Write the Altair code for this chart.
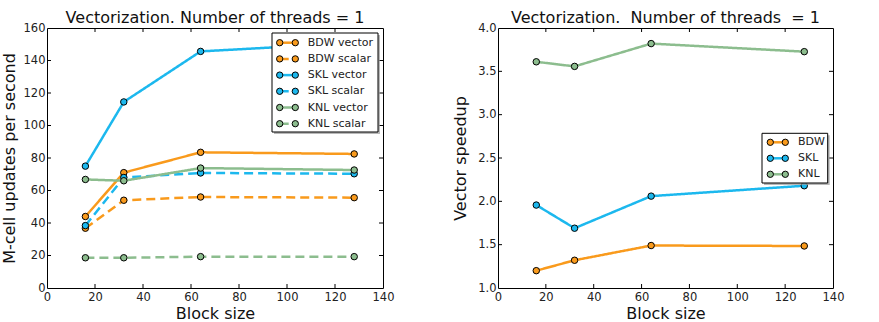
import altair as alt
import pandas as pd

FONT = "DejaVu Sans"

# Block sizes on the x axis
blocks = [16, 32, 64, 128]

# M-cell updates per second, one list per processor and code path
bdw_vector = [44.0, 71.0, 83.5, 82.5]
bdw_scalar = [36.8, 54.0, 56.0, 55.6]
skl_vector = [75.0, 114.5, 145.6, 150.8]
skl_scalar = [38.4, 68.0, 70.8, 70.3]
knl_vector = [66.8, 66.0, 73.8, 72.6]
knl_scalar = [18.6, 18.6, 19.3, 19.3]

# Vector speedup per processor
bdw_speedup = [1.20, 1.32, 1.49, 1.485]
skl_speedup = [1.957, 1.69, 2.06, 2.18]
knl_speedup = [3.61, 3.557, 3.82, 3.727]

procs = ["BDW", "SKL", "KNL"]
proc_colors = {"BDW": "#F99A1C", "SKL": "#1CB8EE", "KNL": "#8CBD8E"}

x_tick_labels = [0, 20, 40, 60, 80, 100, 120, 140]
left_y_labels = [0, 20, 40, 60, 80, 100, 120, 140, 160]
right_y_labels = [1.0, 1.5, 2.0, 2.5, 3.0, 3.5, 4.0]

W_L, W_R, H = 336, 335, 260
TICK = 4
DASH = [9, 5]

perf = {
    ("BDW", "vector"): bdw_vector, ("BDW", "scalar"): bdw_scalar,
    ("SKL", "vector"): skl_vector, ("SKL", "scalar"): skl_scalar,
    ("KNL", "vector"): knl_vector, ("KNL", "scalar"): knl_scalar,
}
series_order = [f"{p} {k}" for p in procs for k in ["vector", "scalar"]]

rows = []
for (p, k), vals in perf.items():
    for b, v in zip(blocks, vals):
        rows.append({"block": b, "value": v, "series": f"{p} {k}", "kind": k,
                     "col": proc_colors[p]})
perf_df = pd.DataFrame(rows)

speed = {"BDW": bdw_speedup, "SKL": skl_speedup, "KNL": knl_speedup}
speed_df = pd.DataFrame([
    {"block": b, "value": v, "series": p, "kind": "vector", "col": proc_colors[p]}
    for p, vals in speed.items() for b, v in zip(blocks, vals)
])


def axis_x():
    return alt.Axis(values=x_tick_labels, ticks=False, tickSize=0,
                    domain=False, grid=False, labelPadding=3, labelFontSize=11.5,
                    labelFont=FONT, labelColor="#222", labelOverlap=False,
                    title="Block size", titleFont=FONT, titleFontSize=16,
                    titleFontWeight="normal", titleColor="#111",
                    titleBaseline="alphabetic", titleY=30, labelFlush=False)


def axis_y(title, fmt, values):
    return alt.Axis(values=values, ticks=False, tickSize=0, domain=False, grid=False,
                    labelPadding=2, labelFontSize=11.5, labelFont=FONT, labelColor="#222",
                    labelOverlap=False, format=fmt, title=title, titleFont=FONT,
                    titleFontSize=16, titleFontWeight="normal", titleColor="#111",
                    titleAngle=270, titleBaseline="alphabetic", titleAlign="center",
                    titleX=-33, titleY=H / 2, labelFlush=False)


def inner_ticks(xvals, yvals, width, xs, ys, xaxis, yaxis):
    xt = pd.DataFrame({"t": xvals})
    yt = pd.DataFrame({"t": yvals})
    rule = dict(color="black", strokeWidth=1)
    X = alt.X("t:Q", scale=xs, axis=xaxis)
    Y = alt.Y("t:Q", scale=ys, axis=yaxis)
    bottom = alt.Chart(xt).mark_rule(**rule).encode(x=X, y=alt.value(H), y2=alt.value(H - TICK))
    top = alt.Chart(xt).mark_rule(**rule).encode(x=X, y=alt.value(0), y2=alt.value(TICK))
    left = alt.Chart(yt).mark_rule(**rule).encode(y=Y, x=alt.value(0), x2=alt.value(TICK))
    right = alt.Chart(yt).mark_rule(**rule).encode(
        y=Y, x=alt.value(width), x2=alt.value(width - TICK))
    return [bottom, top, left, right]


def legend(names, colors, dashed, box, first_y, step, sym_x0, sym_x1, label_x, xaxis, yaxis):
    n = len(names)
    leg = pd.DataFrame({
        "name": names,
        "col": colors,
        "dash": dashed,
        "y": [first_y + step * i for i in range(n)],
        "x0": [sym_x0] * n,
        "x1": [sym_x1] * n,
        "lx": [label_x] * n,
    })
    bx0, by0, bx1, by1 = box
    one = pd.DataFrame({"a": [0]})
    shadow = alt.Chart(one).mark_rect(fill="#9a9a9a", opacity=0.7).encode(
        x=alt.value(bx0 + 2), x2=alt.value(bx1 + 2),
        y=alt.value(by0 + 2), y2=alt.value(by1 + 2))
    frame = alt.Chart(one).mark_rect(fill="white", stroke="black", strokeWidth=1).encode(
        x=alt.value(bx0), x2=alt.value(bx1), y=alt.value(by0), y2=alt.value(by1))
    col = alt.Color("col:N", scale=None)
    fil = alt.Fill("col:N", scale=None)
    Y = alt.Y("y:Q", scale=None, axis=yaxis)
    layers = [shadow, frame]
    solid_rows = leg[~leg["dash"]]
    dashed_rows = leg[leg["dash"]]
    layers.append(alt.Chart(solid_rows).mark_rule(strokeWidth=2.5).encode(
        x=alt.X("x0:Q", scale=None, axis=xaxis), x2="x1:Q", y=Y, color=col))
    if len(dashed_rows):
        layers.append(alt.Chart(dashed_rows).mark_rule(strokeWidth=2.5, strokeDash=DASH).encode(
            x=alt.X("x0:Q", scale=None, axis=xaxis), x2="x1:Q", y=Y, color=col))
    for xfield in ["x0", "x1"]:
        layers.append(alt.Chart(leg).mark_point(filled=True, size=40, stroke="black",
                                                strokeWidth=1, opacity=1).encode(
            x=alt.X(f"{xfield}:Q", scale=None, axis=xaxis), y=Y, fill=fil))
    layers.append(alt.Chart(leg).mark_text(align="left", baseline="middle", font=FONT,
                                           fontSize=11, color="#222").encode(
        x=alt.X("lx:Q", scale=None, axis=xaxis), y=Y, text="name:N"))
    return layers


def panel_title(text, width):
    return alt.Chart(pd.DataFrame({"t": [text]})).mark_text(
        font=FONT, fontSize=16, color="#111", align="center", baseline="alphabetic"
    ).encode(x=alt.value(width / 2), y=alt.value(-5), text="t:N")


def series_layers(df, xs, ys, xaxis, yaxis):
    lines = alt.Chart(df).mark_line(strokeWidth=2.5).encode(
        x=alt.X("block:Q", scale=xs, axis=xaxis),
        y=alt.Y("value:Q", scale=ys, axis=yaxis),
        color=alt.Color("col:N", scale=None),
        strokeDash=alt.StrokeDash("kind:N", scale=alt.Scale(domain=["vector", "scalar"],
                                                            range=[[1, 0], DASH]),
                                  legend=None),
        detail="series:N",
        order="block:Q",
    )
    points = alt.Chart(df).mark_point(filled=True, size=42, stroke="black",
                                      strokeWidth=1, opacity=1).encode(
        x=alt.X("block:Q", scale=xs, axis=xaxis),
        y=alt.Y("value:Q", scale=ys, axis=yaxis),
        fill=alt.Fill("col:N", scale=None),
    )
    return [lines, points]


def panel(df, ys, y_title, y_fmt, y_labels, width, names, dashed, box, first_y, step,
          sx0, sx1, lx, title):
    xs = alt.Scale(domain=[0, 140], nice=False, zero=False)
    xaxis = axis_x()
    yaxis = axis_y(y_title, y_fmt, y_labels)
    return alt.layer(
        *series_layers(df, xs, ys, xaxis, yaxis),
        *inner_ticks(x_tick_labels[1:-1], y_labels[1:-1], width, xs, ys, xaxis, yaxis),
        *legend(names, [proc_colors[s.split()[0]] for s in names], dashed, box,
                first_y, step, sx0, sx1, lx, xaxis, yaxis),
        panel_title(title, width),
    ).properties(width=width, height=H)


# Left panel: throughput
left = panel(perf_df, alt.Scale(domain=[0, 160], nice=False), "M-cell updates per second",
             "d", left_y_labels, W_L, series_order,
             [s.endswith("scalar") for s in series_order],
             (225, 5, 331, 104), 14.7, 16.2, 232.7, 248.3, 260.7,
             "Vectorization. Number of threads = 1")

# Right panel: vector speedup
right = panel(speed_df, alt.Scale(domain=[1.0, 4.0], nice=False, zero=False),
              "Vector speedup", ".1f", right_y_labels, W_R, procs, [False, False, False],
              (264, 105.3, 329.7, 155), 114.3, 16, 272.3, 287.3, 300,
              "Vectorization.\u00a0 Number of threads\u00a0 = 1")

chart = alt.hconcat(left, right, spacing=115, bounds="flush").properties(
    padding={"left": 0, "top": 9, "right": 0, "bottom": 0},
).configure(background="white").configure_view(stroke="black", strokeWidth=1)

chart.save("out.html", embed_options={"renderer": "svg", "actions": False})
